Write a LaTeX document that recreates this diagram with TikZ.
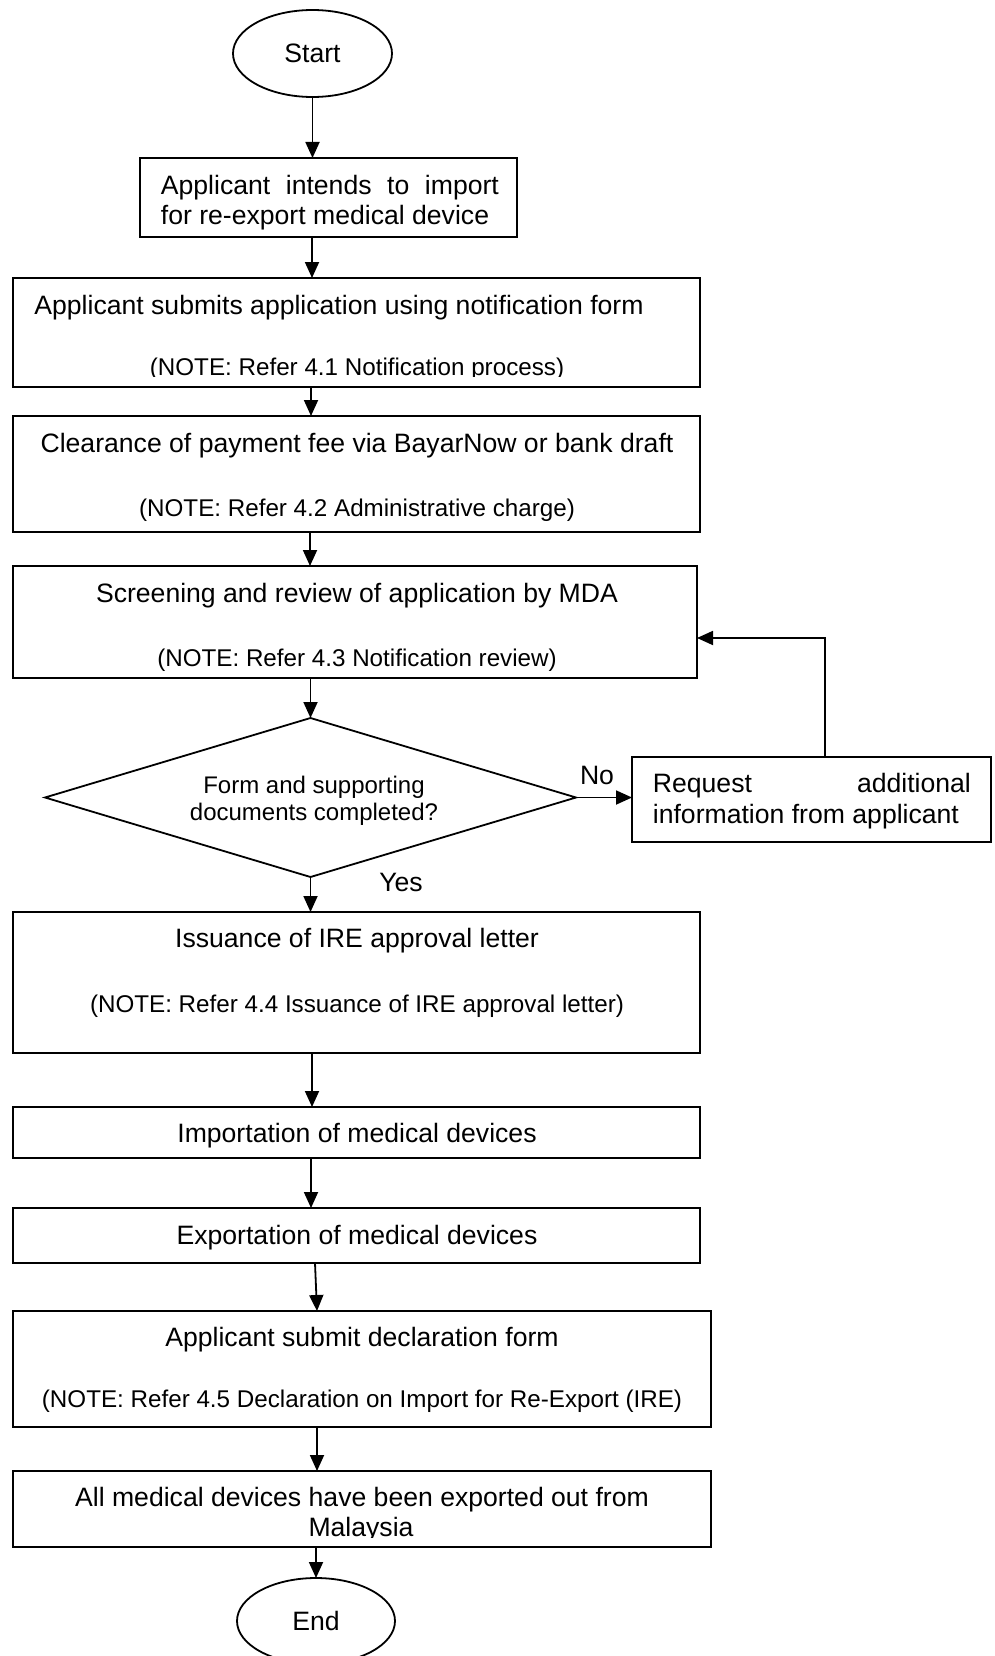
\documentclass[tikz,border=0pt]{standalone}
\usepackage{fontspec}
\setmainfont{Liberation Sans}
\usetikzlibrary{arrows.meta,shapes.geometric}
\begin{document}
\begin{tikzpicture}[x=1pt,y=-1pt,
  line width=1.8pt,
  box/.style={draw, line width=1.8pt, inner sep=0pt, outer sep=0pt},
  oval/.style={draw, ellipse, line width=1.8pt, inner sep=0pt, outer sep=0pt, font=\fontsize{26.6}{30}\selectfont},
  txt/.style={inner sep=0pt, anchor=base, font=\fontsize{26.6}{30}\selectfont},
  note/.style={inner sep=0pt, anchor=base, font=\fontsize{24.2}{28}\selectfont},
  txtw/.style={txt, anchor=base west},
  small/.style={inner sep=0pt, anchor=base, font=\fontsize{24}{27}\selectfont},
  arr/.style={-{Triangle[length=16pt,width=14pt]}, line width=1.8pt}
]
\useasboundingbox (0,0) rectangle (994,1656);

% shapes
\node[oval, minimum width=159pt, minimum height=87pt] (start) at (312.5,53.5) {Start};
\node[box, minimum width=377pt, minimum height=79pt] (b1) at (328.5,197.5) {};
\node[box, minimum width=687pt, minimum height=109pt] (b2) at (356.5,332.5) {};
\node[box, minimum width=687pt, minimum height=116pt] (b3) at (356.5,474) {};
\node[box, minimum width=684pt, minimum height=112pt] (b4) at (355,622) {};
\node[draw, diamond, line width=1.8pt, inner sep=0pt, outer sep=0pt, minimum width=531pt, minimum height=159pt] (dia) at (310.5,797.5) {};
\node[box, minimum width=359pt, minimum height=85pt] (req) at (811.5,799.5) {};
\node[box, minimum width=687pt, minimum height=141pt] (b5) at (356.5,982.5) {};
\node[box, minimum width=687pt, minimum height=51pt] (b6) at (356.5,1132.5) {};
\node[box, minimum width=687pt, minimum height=55pt] (b7) at (356.5,1235.5) {};
\node[box, minimum width=698pt, minimum height=116pt] (b8) at (362,1369) {};
\node[box, minimum width=698pt, minimum height=76pt] (b9) at (362,1509) {};
\node[oval, minimum width=158pt, minimum height=86pt] (end) at (316,1621) {End};

% texts
\node[txtw] (t1a) at (160,194) {\makebox[338pt][l]{Applicant\hfill intends\hfill to\hfill import}};
\node[txtw] (t1b) at (160,224) {for re-export medical device};
\node[txt] (t2a) at (339,314) {Applicant submits application using notification form};
\begin{scope}
\clip (0,0) rectangle (994,376.5);
\node[note] (t2b) at (357,375) {(NOTE: Refer 4.1 Notification process)};
\end{scope}
\node[txt] (t3a) at (357,452) {Clearance of payment fee via BayarNow or bank draft};
\node[note] (t3b) at (357,516) {(NOTE: Refer 4.2 Administrative charge)};
\node[txt] (t4a) at (357,602) {Screening and review of application by MDA};
\node[note] (t4b) at (357,666) {(NOTE: Refer 4.3 Notification review)};
\node[small] (tda) at (314,793) {Form and supporting};
\node[small] (tdb) at (314,820) {documents completed?};
\node[txtw] (tra) at (652,792) {\makebox[318pt][l]{Request\hfill additional}};
\node[txtw] (trb) at (652,823) {information from applicant};
\node[txt] (no) at (597,784) {No};
\node[txt] (yes) at (401,891) {Yes};
\node[txt] (t5a) at (357,947) {Issuance of IRE approval letter};
\node[note] (t5b) at (357,1012) {(NOTE: Refer 4.4 Issuance of IRE approval letter)};
\node[txt] (t6) at (357,1142) {Importation of medical devices};
\node[txt] (t7) at (357,1244) {Exportation of medical devices};
\node[txt] (t8a) at (362,1346) {Applicant submit declaration form};
\node[note] (t8b) at (362,1407) {(NOTE: Refer 4.5 Declaration on Import for Re-Export (IRE)};
\node[txt] (t9a) at (362,1506) {All medical devices have been exported out from};
\begin{scope}
\clip (0,0) rectangle (994,1537);
\node[txt] (t9b) at (361,1536) {Malaysia};
\end{scope}

% spine coordinates
\coordinate (s312) at (312,0);
\coordinate (s311) at (311,0);
\coordinate (s310) at (310,0);
\coordinate (s315) at (315,0);
\coordinate (s317) at (317,0);
\coordinate (fb) at (825,638);

% connectors
\draw[arr] (start.south) -- (start.south |- b1.north);
\draw[arr] (b1.south -| s312) -- (b2.north -| s312);
\draw[arr] (b2.south -| s311) -- (b3.north -| s311);
\draw[arr] (b3.south -| s310) -- (b4.north -| s310);
\draw[arr] (b4.south -| dia.north) -- (dia.north);
\draw[arr] (dia.south) -- (dia.south |- b5.north);
\draw[arr] (b5.south -| s312) -- (b6.north -| s312);
\draw[arr] (b6.south -| s311) -- (b7.north -| s311);
\draw[arr] (b7.south -| s315) -- (b8.north -| s317);
\draw[arr] (b8.south -| s317) -- (b9.north -| s317);
\draw[arr] (b9.south -| end.north) -- (end.north);
\draw[arr] (dia.east) -- (req.west |- dia.east);
\draw[arr] (req.north -| fb) |- (b4.east |- fb);
\end{tikzpicture}
\end{document}
